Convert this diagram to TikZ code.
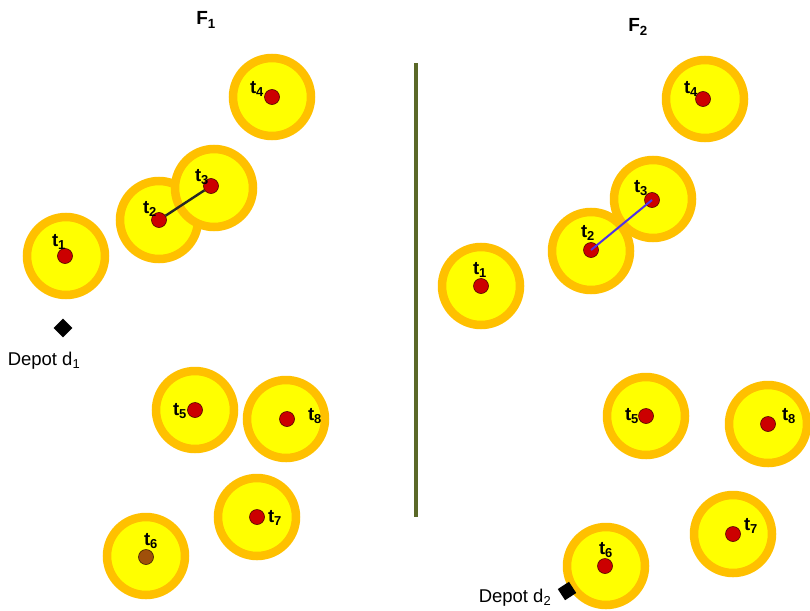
\documentclass[tikz,border=0pt]{standalone}
\usepackage{fontspec}
\setmainfont{Liberation Sans}
\usetikzlibrary{positioning, shapes.geometric}

\definecolor{zoneorange}{RGB}{255,192,0}
\definecolor{zoneyellow}{RGB}{255,255,0}
\definecolor{taskred}{RGB}{204,0,0}
\definecolor{taskbrown}{RGB}{160,80,10}
\definecolor{linkblue}{RGB}{80,50,230}
\definecolor{sepgreen}{RGB}{90,104,40}

\begin{document}
\begin{tikzpicture}[x=1pt, y=-1pt,
        zone/.style={circle, draw=zoneorange, line width=8.5pt, fill=zoneyellow, minimum size=78pt, inner sep=0pt},
        task/.style={circle, draw=black!60!taskred, fill=taskred, line width=0.6pt, minimum size=15pt, inner sep=0pt},
        tlabel/.style={font=\bfseries\fontsize{18.5}{18.5}\selectfont, inner sep=0pt},
        depot/.style={diamond, fill=black, minimum size=19pt, inner sep=0pt},
        dlabel/.style={font=\fontsize{18.5}{18.5}\selectfont, inner sep=0pt},
        title/.style={font=\bfseries\fontsize{19}{19}\selectfont, inner sep=0pt}
    ]
        \useasboundingbox (0,0) rectangle (810,610);

        % Titles
        \node[title] (f1) at (206,20) {F\textsubscript{1}};
        \node[title] (f2) at (638,27) {F\textsubscript{2}};

        % Separator
        \coordinate (septop) at (416,63);
        \coordinate (sepbot) at (416,517);
        \draw[line width=3.5pt, sepgreen] (septop) -- (sepbot);

        % F1 zones (drawn in order so t3 overlaps t2)
        \foreach \n/\x/\y in {4/272/97, 1/66/256, 2/159/220, 3/214/188, 5/195/410, 8/286/419, 7/257/517, 6/146/556} {
            \node[zone] (za\n) at (\x,\y) {};
        }
        % F2 zones
        \foreach \n/\x/\y in {4/705/99, 3/653/199, 2/591/251, 1/481/286, 5/646/416, 8/768/424, 7/733/534, 6/606/566} {
            \node[zone] (zb\n) at (\x,\y) {};
        }

        % F1 tasks and labels
        \foreach \n/\x/\y/\lx/\ly in {4/272/97/257/89, 1/65/256/59/242, 2/159/220/150/209, 3/211/186/202/177, 5/195/410/180/411, 8/287/419/315/416, 7/257/517/275/518} {
            \node[task] (ta\n) at (\x,\y) {};
            \node[tlabel] (la\n) at (\lx,\ly) {t\textsubscript{\n}};
        }
        \node[task, fill=taskbrown, draw=black!60!taskbrown] (ta6) at (146,557) {};
        \node[tlabel] (la6) at (151,541) {t\textsubscript{6}};
        \draw[line width=2.4pt, black!85] (ta2) -- (ta3);

        % F2 tasks and labels
        \foreach \n/\x/\y/\lx/\ly in {4/703/99/691/89, 3/652/200/641/188, 2/591/250/588/233, 1/481/286/480/270, 5/646/416/632/416, 8/768/424/789/416, 7/733/534/751/526, 6/605/566/606/550} {
            \node[task] (tb\n) at (\x,\y) {};
            \node[tlabel] (lb\n) at (\lx,\ly) {t\textsubscript{\n}};
        }
        \draw[line width=2pt, linkblue] (tb2.center) -- (tb3.center);

        % Depots
        \node[depot] (d1) at (63,328) {};
        \node[dlabel] (ld1) at (44,361) {Depot d\textsubscript{1}};
        \node[depot, rotate=-12] (d2) at (567,591) {};
        \node[dlabel] (ld2) at (515,598) {Depot d\textsubscript{2}};

    \end{tikzpicture}
\end{document}
